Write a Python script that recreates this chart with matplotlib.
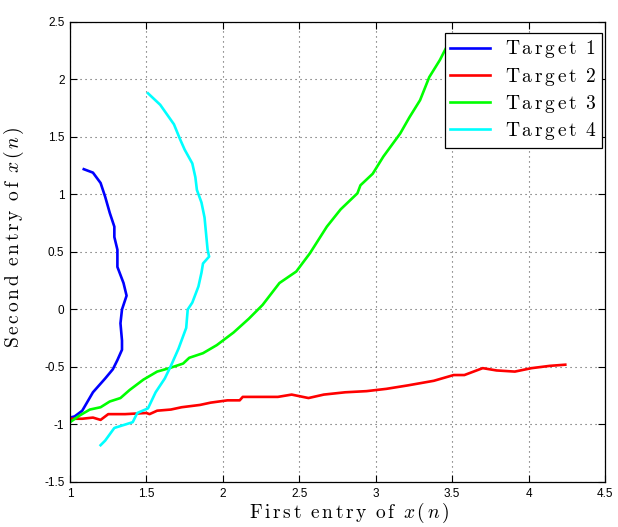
"""Trajectories of the four targets in the (x1, x2) plane"""
import matplotlib
matplotlib.use("Agg")
import matplotlib.pyplot as plt

# Target 1 (blue)
t1_x = [1.00, 1.03, 1.08, 1.15, 1.23, 1.28, 1.31, 1.34, 1.34, 1.33, 1.34, 1.37,
        1.35, 1.31, 1.31, 1.29, 1.29, 1.26, 1.23, 1.20, 1.15, 1.09]
t1_y = [-0.94, -0.93, -0.88, -0.72, -0.60, -0.52, -0.44, -0.35, -0.27, -0.12, 0.00,
        0.12, 0.23, 0.37, 0.52, 0.63, 0.72, 0.84, 0.98, 1.10, 1.19, 1.22]

# Target 2 (red)
t2_x = [1.00, 1.08, 1.15, 1.20, 1.25, 1.36, 1.50, 1.52, 1.57, 1.66, 1.73, 1.85,
        1.92, 2.03, 2.11, 2.13, 2.22, 2.36, 2.45, 2.56, 2.66, 2.80, 2.94, 3.07,
        3.21, 3.38, 3.51, 3.58, 3.70, 3.79, 3.91, 4.02, 4.14, 4.24]
t2_y = [-0.95, -0.95, -0.94, -0.96, -0.91, -0.91, -0.90, -0.91, -0.88, -0.87,
        -0.85, -0.83, -0.81, -0.79, -0.79, -0.76, -0.76, -0.76, -0.74, -0.77,
        -0.74, -0.72, -0.71, -0.69, -0.66, -0.62, -0.57, -0.57, -0.51, -0.53,
        -0.54, -0.51, -0.49, -0.48]

# Target 3 (green)
t3_x = [1.00, 1.065, 1.13, 1.20, 1.26, 1.33, 1.39, 1.48, 1.57, 1.65, 1.74, 1.78,
        1.87, 1.96, 2.07, 2.17, 2.26, 2.37, 2.48, 2.57, 2.68, 2.77, 2.88, 2.90,
        2.98, 3.05, 3.16, 3.22, 3.29, 3.35, 3.42, 3.47, 3.50]
t3_y = [-0.98, -0.92, -0.87, -0.85, -0.80, -0.77, -0.70, -0.61, -0.54, -0.51,
        -0.47, -0.42, -0.38, -0.31, -0.20, -0.08, 0.04, 0.23, 0.33, 0.49, 0.72,
        0.87, 1.01, 1.08, 1.18, 1.33, 1.53, 1.67, 1.82, 2.02, 2.17, 2.30, 2.37]

# Target 4 (cyan)
t4_x = [1.20, 1.23, 1.29, 1.41, 1.44, 1.51, 1.56, 1.62, 1.66, 1.71, 1.76, 1.77,
        1.80, 1.84, 1.86, 1.87, 1.91, 1.90, 1.89, 1.88, 1.86, 1.83, 1.82, 1.80,
        1.75, 1.72, 1.68, 1.59, 1.51]
t4_y = [-1.18, -1.14, -1.03, -0.98, -0.90, -0.86, -0.72, -0.60, -0.49, -0.34,
        -0.16, 0.00, 0.06, 0.20, 0.32, 0.40, 0.46, 0.52, 0.66, 0.80, 0.93, 1.04,
        1.15, 1.27, 1.39, 1.48, 1.61, 1.78, 1.88]

labels = ["Target 1", "Target 2", "Target 3", "Target 4"]
colors = ["#0000ff", "#ff0000", "#00ff00", "#00ffff"]

plt.rcParams["mathtext.fontset"] = "cm"
plt.rcParams["axes.unicode_minus"] = False

GAP = 0.16   # letter spacing, like the LaTeX interpreter output
WORD = 0.55  # space between words


def spaced(text, math_tail=None):
    """roman text with a little room between the letters, as mathtext"""
    words = []
    for word in text.split(" "):
        words.append((r"\hspace{%g}" % GAP).join(r"\mathrm{%s}" % c for c in word))
    body = (r"\hspace{%g}" % WORD).join(words)
    if math_tail:
        body += r"\hspace{%g}" % WORD + math_tail
    return "$" + body + "$"


xn = r"x\hspace{%g}(\hspace{%g}n\hspace{%g})" % (GAP, GAP, GAP)

fig = plt.figure(figsize=(6.18, 5.27), dpi=100)
ax = fig.add_axes([0.1133, 0.0854, 0.8657, 0.8729])

series = [(t1_x, t1_y), (t2_x, t2_y), (t3_x, t3_y), (t4_x, t4_y)]
for (xs, ys), label, color in zip(series, labels, colors):
    ax.plot(xs, ys, color=color, linewidth=1.9, label=spaced(label))

ax.set_xlim(1, 4.5)
ax.set_ylim(-1.5, 2.5)
ax.set_xticks([1, 1.5, 2, 2.5, 3, 3.5, 4, 4.5])
ax.set_xticklabels(["1", "1.5", "2", "2.5", "3", "3.5", "4", "4.5"])
ax.set_yticks([-1.5, -1, -0.5, 0, 0.5, 1, 1.5, 2, 2.5])
ax.set_yticklabels(["-1.5", "-1", "-0.5", "0", "0.5", "1", "1.5", "2", "2.5"])
ax.tick_params(direction="in", top=True, right=True, length=5, width=0.8,
               labelsize=8.5, pad=4)
for lab in ax.get_xticklabels() + ax.get_yticklabels():
    lab.set_family("Liberation Sans")
for spine in ax.spines.values():
    spine.set_linewidth(0.9)
ax.grid(True, linestyle=(0, (1, 3.5)), color="#555555", linewidth=0.8)

ax.set_xlabel(spaced("First entry of", xn), fontsize=14)
ax.set_ylabel(spaced("Second entry of", xn), fontsize=14)
ax.xaxis.set_label_coords(0.521, -0.042, transform=ax.transAxes)
ax.yaxis.set_label_coords(-0.083, 0.533, transform=ax.transAxes)
ax.xaxis.label.set_va("top")

leg = ax.legend(loc="upper right", bbox_to_anchor=(0.9944, 0.976),
                fontsize=14, fancybox=False, framealpha=1, edgecolor="black",
                handlelength=2.05, borderaxespad=0, labelspacing=0.27,
                borderpad=0.28, handletextpad=0.78)
leg.get_frame().set_linewidth(0.9)

fig.savefig("out.png", dpi=100)
